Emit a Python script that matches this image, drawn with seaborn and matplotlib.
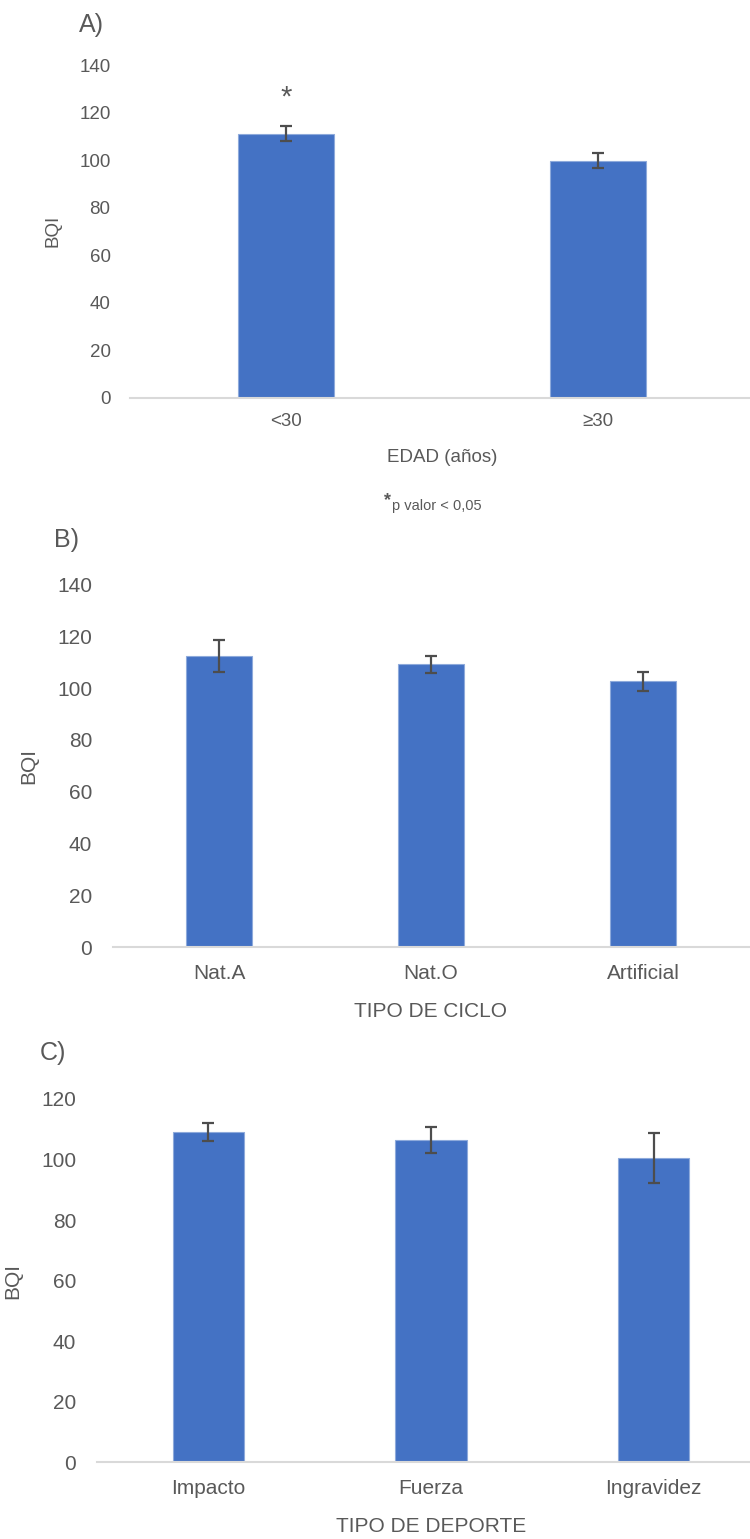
import matplotlib
matplotlib.use("Agg")
import matplotlib.pyplot as plt
import seaborn as sns
import numpy as np

# ---- data ----
edad_cats = ["<30", "≥30"]
edad_vals = [111.1, 99.7]
edad_err = [3.1, 3.2]

ciclo_cats = ["Nat.A", "Nat.O", "Artificial"]
ciclo_vals = [112.5, 109.1, 102.6]
ciclo_err = [6.2, 3.2, 3.7]

deporte_cats = ["Impacto", "Fuerza", "Ingravidez"]
deporte_vals = [109.2, 106.4, 100.5]
deporte_err = [3.0, 4.3, 8.4]

sns.set_theme(style="white")
plt.rcParams['font.family'] = ['Liberation Sans', 'DejaVu Sans']

BAR = "#4472C4"
TXT = "#595959"
ERR = "#4d4d4d"

W, H = 750, 1539
fig = plt.figure(figsize=(W / 100, H / 100), dpi=100)


def px_axes(left, right, top, bottom):
    return [left / W, 1 - bottom / H, (right - left) / W, (bottom - top) / H]


def panel(rect, cats, vals, errs, ymax, xlabel, tick_fs, lab_fs, ylab_x, xlab_y, ypad, xpad, bw):
    ax = fig.add_axes(rect)
    sns.barplot(x=cats, y=vals, color=BAR, width=bw, ax=ax, saturation=1,
                edgecolor="#8eaadb", linewidth=0.8)
    ax.errorbar(np.arange(len(cats)), vals, yerr=errs, fmt="none", ecolor=ERR,
                elinewidth=1.6, capsize=4.5, capthick=1.6)
    ax.set_xlim(-0.5, len(cats) - 0.5)
    ax.set_ylim(0, ymax)
    ax.set_yticks(np.arange(0, ymax + 1, 20))
    for s in ["top", "right", "left"]:
        ax.spines[s].set_visible(False)
    ax.spines["bottom"].set_color("#d9d9d9")
    ax.spines["bottom"].set_linewidth(1.5)
    ax.tick_params(axis="both", length=0, labelcolor=TXT, labelsize=tick_fs)
    ax.tick_params(axis="y", pad=ypad)
    ax.tick_params(axis="x", pad=xpad)
    ax.set_ylabel("BQI", color=TXT, fontsize=lab_fs)
    ax.yaxis.set_label_coords(ylab_x, 0.5)
    ax.set_xlabel(xlabel, color=TXT, fontsize=lab_fs)
    ax.xaxis.set_label_coords(0.5, xlab_y)
    ax.xaxis.label.set_va("center")
    ax.grid(False)
    return ax


axA = panel(px_axes(130, 754, 65, 397.7), edad_cats, edad_vals, edad_err, 140,
            "EDAD (años)", 13.5, 13.5, -0.109, -0.18, 14, 11, 0.31)
axA.text(0, 126.2, "*", ha="center", va="center", color=TXT, fontsize=21)

axB = panel(px_axes(113, 749, 584.3, 947.3), ciclo_cats, ciclo_vals, ciclo_err, 140,
            "TIPO DE CICLO", 15, 15, -0.118, -0.177, 15, 12, 0.31)

axC = panel(px_axes(97, 765, 1099, 1462.3), deporte_cats, deporte_vals, deporte_err, 120,
            "TIPO DE DEPORTE", 15, 15, -0.112, -0.177, 15, 12, 0.32)

# panel letters
fig.text(91 / W, 1 - 25 / H, "A)", ha="center", va="center", color=TXT, fontsize=18)
fig.text(67 / W, 1 - 540 / H, "B)", ha="center", va="center", color=TXT, fontsize=18)
fig.text(53 / W, 1 - 1053 / H, "C)", ha="center", va="center", color=TXT, fontsize=18)

# footnote
fig.text(387 / W, 1 - 501 / H, "*", ha="center", va="center", color=TXT, fontsize=13, fontweight="bold")
fig.text(392 / W, 1 - 506 / H, "p valor < 0,05", ha="left", va="center", color=TXT, fontsize=10.5)

fig.savefig("out.png", dpi=100)
